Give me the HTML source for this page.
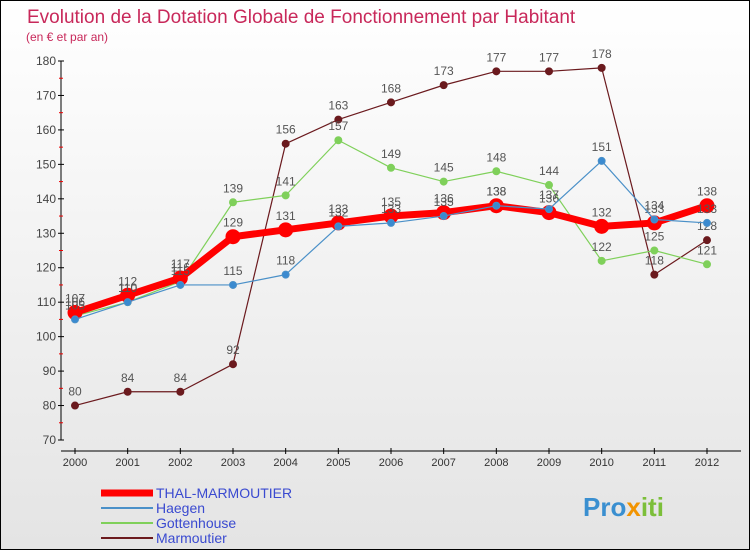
<!DOCTYPE html>
<html><head><meta charset="utf-8"><style>
body{margin:0;}
#c{width:748px;height:548px;border:1px solid #000;position:relative;background:linear-gradient(#fff,#e4e4e4);font-family:"Liberation Sans",sans-serif;overflow:hidden}
</style></head><body>
<div id="c">
<svg id="s" width="748" height="548">
<text x="26" y="22" font-size="19" fill="#c8285a">Evolution de la Dotation Globale de Fonctionnement par Habitant</text>
<text x="25" y="40" font-size="12" fill="#c8285a">(en € et par an)</text>
<g id="axes"></g><g id="series"></g>
<g id="legend"></g>
<text x="582" y="515" font-size="26" font-weight="bold" fill="#3a8fd0">Pro<tspan fill="#f29400">x</tspan><tspan fill="#7cbf3a">iti</tspan></text>
</svg></div>
<script>
const years=[2000,2001,2002,2003,2004,2005,2006,2007,2008,2009,2010,2011,2012];
const yTicks=[70,80,90,100,110,120,130,140,150,160,170,180];
const thal=[107,112,117,129,131,133,135,136,138,136,132,133,138];
const haegen=[105,110,115,115,118,132,133,135,138,137,151,134,133];
const gotten=[106,110,116,139,141,157,149,145,148,144,122,125,121];
const marm=[80,84,84,92,156,163,168,173,177,177,178,118,128];
const NS='http://www.w3.org/2000/svg';
const X=i=>74+i*(632/12);
const Y=v=>439-(v-70)*(379/110);
function mk(t,a,p){const e=document.createElementNS(NS,t);for(const k in a)e.setAttribute(k,a[k]);p.appendChild(e);return e;}
const ax=document.getElementById('axes');
const yl=mk('line',{x1:60,y1:Y(180),x2:60,y2:Y(70),stroke:'#000'},ax);

const xl=mk('line',{x1:60,y1:450,x2:740,y2:450,stroke:'#000'},ax);

yTicks.forEach(v=>{
 mk('line',{x1:57,x2:63,y1:Y(v),y2:Y(v),stroke:'#000'},ax);
 if(v<180)mk('line',{x1:58,x2:62,y1:Y(v+5),y2:Y(v+5),stroke:'#e00'},ax);
 const t=mk('text',{x:55,y:Y(v)+4,'text-anchor':'end','font-size':12,fill:'#444'},ax);t.textContent=v;
 
});
years.forEach((y,i)=>{
 mk('line',{x1:X(i),x2:X(i),y1:447,y2:453,stroke:'#000'},ax);
 const t=mk('text',{x:X(i),y:465,'text-anchor':'middle','font-size':11,fill:'#333'},ax);t.textContent=y;
 
});
const sg=document.getElementById('series');
function series(d,col,w,r,name,dot){
 const g=mk('g',{},sg);
 
 mk('polyline',{points:d.map((v,i)=>X(i)+','+Y(v)).join(' '),fill:'none',stroke:col,'stroke-width':w,'stroke-linejoin':'round'},g);
 d.forEach((v,i)=>{
  const c=mk('circle',{cx:X(i),cy:Y(v),r:r,fill:dot,stroke:col,'stroke-width':1},g);
  
  const t=mk('text',{x:X(i),y:Y(v)-10,'text-anchor':'middle','font-size':12,fill:'#555'},g);t.textContent=v;
 });
}
series(marm,'#6b1a1e',1.2,3.5,'series-marmoutier','#6b1a1e');
series(gotten,'#7fd05a',1.2,3.5,'series-gottenhouse','#7fd05a');
series(thal,'#ff0000',7,7,'series-thal-marmoutier','#ff0000');
series(haegen,'#4a90c8',1.2,3.5,'series-haegen','#3a8ad0');
const lg=document.getElementById('legend');
[['THAL-MARMOUTIER','#ff0000',7],['Haegen','#4a90c8',2],['Gottenhouse','#7fd05a',2],['Marmoutier','#6b1a1e',2]].forEach((e,i)=>{
 const y=492+i*15;
 const g=mk('g',{},lg);
 mk('line',{x1:100,x2:152,y1:y,y2:y,stroke:e[1],'stroke-width':e[2]},g);
 const t=mk('text',{x:155,y:y+5,'font-size':14,fill:'#3a4ad0'},g);t.textContent=e[0];
});
</script></body></html>
